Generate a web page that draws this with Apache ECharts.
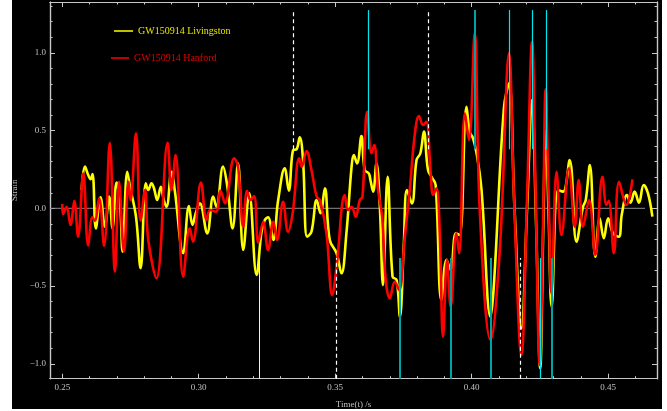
<!DOCTYPE html>
<html>
<head>
<meta charset="utf-8">
<script src="https://cdn.jsdelivr.net/npm/echarts@6/dist/echarts.min.js"></script>
<style>
html,body{margin:0;padding:0;background:#fff;}
#bg{position:absolute;left:12px;top:0;width:650px;height:409px;background:#000;}
#chart{position:absolute;left:0;top:0;width:667px;height:411px;}
</style>
</head>
<body>
<div id="bg"></div>
<div id="chart"></div>
<script>
// ---- data (time in s, strain) ----
var hanford = [
[0.2500,0.028],[0.2503,-0.037],[0.2516,0.010],[0.2530,-0.107],[0.2544,0.049],[0.2558,-0.183],
[0.2577,0.225],[0.2595,-0.241],[0.2610,-0.058],[0.2619,-0.080],[0.2635,0.064],[0.2653,-0.241],
[0.2674,0.422],[0.2693,-0.408],[0.2708,0.171],[0.2726,-0.279],[0.2743,0.171],[0.2750,0.053],
[0.2770,0.482],[0.2787,-0.080],[0.2803,0.118],[0.2815,-0.204],[0.2845,-0.450],[0.2886,0.422],
[0.2900,0.118],[0.2915,0.343],[0.2943,-0.440],[0.2967,-0.129],[0.2979,-0.215],[0.3008,0.165],
[0.3029,-0.075],[0.3041,-0.011],[0.3063,-0.022],[0.3080,0.113],[0.3096,0.032],[0.3130,0.322],
[0.3144,0.268],[0.3163,-0.118],[0.3177,0.113],[0.3190,0.053],[0.3203,0.079],[0.3218,-0.221],
[0.3236,-0.086],[0.3254,-0.268],[0.3273,-0.086],[0.3287,-0.204],[0.3309,0.042],[0.3327,-0.150],
[0.3344,-0.032],[0.3368,0.322],[0.3377,0.268],[0.3395,0.368],[0.3413,0.246],[0.3432,0.075],
[0.3444,0.053],[0.3468,-0.161],[0.3489,-0.558],[0.3505,-0.376],[0.3535,0.086],[0.3547,-0.011],
[0.3560,0.010],[0.3575,-0.054],[0.3590,0.053],[0.3600,0.075],[0.3617,0.621],[0.3633,0.354],
[0.3643,0.407],[0.3657,0.118],[0.3672,-0.054],[0.3685,-0.461],[0.3700,-0.579],[0.3718,-0.472],
[0.3734,-0.525],[0.3755,-0.183],[0.3773,0.118],[0.3792,0.482],[0.3807,0.594],[0.3822,0.536],
[0.3834,0.557],[0.3849,0.246],[0.3859,0.086],[0.3871,0.129],[0.3883,-0.161],[0.3895,-0.826],
[0.3910,-0.332],[0.3923,-0.633],[0.3944,-0.161],[0.3954,-0.289],[0.3975,0.611],[0.3990,0.439],
[0.4011,1.129],[0.4030,-0.032],[0.4069,-0.847],[0.4103,-0.268],[0.4137,0.997],[0.4155,0.075],
[0.4182,-0.943],[0.4203,0.075],[0.4221,1.071],[0.4235,0.030],[0.4249,-1.008],[0.4262,-0.054],
[0.4271,0.765],[0.4282,0.075],[0.4292,-0.547],[0.4311,0.235],[0.4329,-0.172],[0.4356,0.257],
[0.4378,-0.118],[0.4392,0.182],[0.4408,-0.118],[0.4430,0.053],[0.4453,-0.300],[0.4479,0.203],
[0.4494,0.021],[0.4502,0.049],[0.4521,-0.289],[0.4540,0.171],[0.4567,0.021],[0.4589,0.186]
];
var livingston = [
[0.2571,0.118],[0.2583,0.268],[0.2595,0.214],[0.2604,0.188],[0.2611,0.221],[0.2623,-0.129],
[0.2640,0.071],[0.2656,-0.118],[0.2672,0.075],[0.2684,-0.129],[0.2699,0.165],[0.2711,0.053],
[0.2721,-0.279],[0.2738,0.235],[0.2748,0.139],[0.2770,-0.054],[0.2787,-0.386],[0.2806,0.161],
[0.2815,0.118],[0.2827,0.161],[0.2836,0.129],[0.2848,0.053],[0.2861,0.139],[0.2872,0.053],
[0.2882,0.010],[0.2900,0.235],[0.2912,0.118],[0.2943,-0.289],[0.2964,0.015],[0.2977,-0.107],
[0.2989,-0.032],[0.3004,0.032],[0.3031,-0.161],[0.3053,0.075],[0.3065,0.010],[0.3089,0.268],
[0.3104,0.150],[0.3124,-0.129],[0.3144,0.289],[0.3163,-0.268],[0.3185,0.096],[0.3212,-0.429],
[0.3230,-0.150],[0.3242,-0.075],[0.3254,-0.058],[0.3273,-0.204],[0.3291,0.053],[0.3315,0.257],
[0.3330,0.113],[0.3346,0.375],[0.3358,0.379],[0.3370,0.457],[0.3382,0.311],[0.3397,-0.183],
[0.3413,-0.150],[0.3432,0.053],[0.3446,-0.032],[0.3462,0.129],[0.3480,-0.204],[0.3505,-0.289],
[0.3523,-0.418],[0.3541,-0.161],[0.3560,0.268],[0.3568,0.343],[0.3580,0.289],[0.3596,0.465],
[0.3608,0.246],[0.3623,0.225],[0.3629,0.182],[0.3639,0.107],[0.3651,0.289],[0.3663,0.032],
[0.3675,-0.493],[0.3692,0.203],[0.3710,-0.440],[0.3725,-0.461],[0.3737,-0.697],[0.3751,-0.247],
[0.3763,0.118],[0.3781,0.032],[0.3798,0.311],[0.3812,0.354],[0.3825,0.493],[0.3840,0.246],
[0.3856,0.193],[0.3868,0.150],[0.3889,-0.590],[0.3908,-0.332],[0.3923,-0.397],[0.3942,-0.161],
[0.3956,-0.172],[0.3981,0.653],[0.3993,0.493],[0.4005,0.450],[0.4018,0.354],[0.4036,0.118],
[0.4069,-0.697],[0.4081,-0.504],[0.4118,0.643],[0.4137,0.804],[0.4157,0.000],[0.4182,-0.772],
[0.4203,0.000],[0.4221,0.696],[0.4236,-0.100],[0.4251,-1.029],[0.4262,-0.150],[0.4271,0.500],
[0.4282,-0.050],[0.4293,-0.633],[0.4316,0.118],[0.4335,0.107],[0.4359,0.311],[0.4384,-0.215],
[0.4408,0.010],[0.4418,0.053],[0.4433,0.278],[0.4453,-0.311],[0.4469,-0.064],[0.4484,-0.193],
[0.4500,-0.064],[0.4518,-0.161],[0.4539,-0.183],[0.4550,-0.040],[0.4569,0.086],[0.4582,0.036],
[0.4597,0.107],[0.4613,0.036],[0.4630,0.150],[0.4646,0.096],[0.4662,-0.054]
];
var zeroLine = [[0.2455,0],[0.4635,0]];
// marker lines: times of vertical lines
var topCyanT = [0.3621,0.4137,0.4223,0.4273];
var topTealT = [0.4011];
var topDashT = [0.3348,0.3840];
var botTealT = [0.3737,0.3923,0.4069,0.4293];
var botCyanT = [0.4251];
var botPaleT = [0.3220];
var botDashT = [0.3503,0.4177];
var topSpan = [0.38,1.275];
var botSpan = [-1.096,-0.32];
// axis ticks
var xMajor = [0.25,0.30,0.35,0.40,0.45];
var xMinor = [0.26,0.27,0.28,0.29,0.31,0.32,0.33,0.34,0.36,0.37,0.38,0.39,0.41,0.42,0.43,0.44,0.46];
var yMajor = [-1.0,-0.5,0.0,0.5,1.0];
var yMinor = [-0.9,-0.8,-0.7,-0.6,-0.4,-0.3,-0.2,-0.1,0.1,0.2,0.3,0.4,0.6,0.7,0.8,0.9,1.1,1.2,1.3];

var X_MIN = 0.2455, X_MAX = 0.4679, Y_MIN = -1.096, Y_MAX = 1.327;
var FONT = 'Liberation Serif';
var AX = '#c8c8c8';

function vlines(ts, span){
  return ts.map(function(t){ return [{coord:[t,span[0]]},{coord:[t,span[1]]}]; });
}
function mlSeries(name, ts, span, color, width, type){
  return {
    name: name, type:'line', data:[], silent:true, z:10,
    markLine:{ symbol:['none','none'], silent:true, animation:false,
      label:{show:false},
      lineStyle:{color:color, width:width, type:type||'solid'},
      emphasis:{disabled:true},
      data: vlines(ts, span) }
  };
}
function xAx(pos, vals, len, labels){
  return { type:'value', position:pos, min:X_MIN, max:X_MAX,
    axisLine:{show:true, onZero:false, lineStyle:{color:AX,width:1.2}},
    splitLine:{show:false},
    axisTick:{show:true, inside:true, length:len, customValues:vals, lineStyle:{color:AX,width:1}},
    axisLabel:{show:labels, customValues:vals, color:'#c0c0c0', fontFamily:FONT, fontSize:9, margin:4,
      formatter:function(v){return v.toFixed(2);} },
    name: (labels? 'Time(t) /s' : ''), nameLocation:'middle', nameGap:21,
    nameTextStyle:{color:'#c0c0c0', fontFamily:FONT, fontSize:9}
  };
}
function yAx(pos, vals, len, labels){
  return { type:'value', position:pos, min:Y_MIN, max:Y_MAX,
    axisLine:{show:true, onZero:false, lineStyle:{color:AX,width:1.2}},
    splitLine:{show:false},
    axisTick:{show:true, inside:true, length:len, customValues:vals, lineStyle:{color:AX,width:1}},
    axisLabel:{show:labels, customValues:vals, color:'#c0c0c0', fontFamily:FONT, fontSize:9, margin:4,
      formatter:function(v){ var s=Math.abs(v).toFixed(1); return v< -1e-9 ? '\u2212'+s : s; } },
    name: (labels? 'Strain' : ''), nameLocation:'middle', nameGap:25,
    nameTextStyle:{color:'#c0c0c0', fontFamily:FONT, fontSize:9}
  };
}

var chart = echarts.init(document.getElementById('chart'), null, {renderer:'canvas'});
chart.setOption({
  backgroundColor:'transparent',
  animation:false,
  grid:{left:50, top:2, width:607, height:376.7, containLabel:false, outerBoundsMode:'none'},
  legend:[
    {data:[{name:'GW150914 Livingston', textStyle:{color:'#e6e600'}}], left:114, top:26, padding:0,
     icon:'rect', itemWidth:19, itemHeight:1.5, textStyle:{fontFamily:FONT, fontSize:10}, selectedMode:false},
    {data:[{name:'GW150914 Hanford', textStyle:{color:'#e00000'}}], left:111, top:53, padding:0,
     icon:'rect', itemWidth:18, itemHeight:1.5, textStyle:{fontFamily:FONT, fontSize:10}, selectedMode:false}
  ],
  xAxis:[ xAx('bottom', xMajor, 5, true), xAx('bottom', xMinor, 2.5, false),
          xAx('top', xMajor, 5, false), xAx('top', xMinor, 2.5, false) ],
  yAxis:[ yAx('left', yMajor, 5, true), yAx('left', yMinor, 2.5, false),
          yAx('right', yMajor, 5, false), yAx('right', yMinor, 2.5, false) ],
  series:[
    {name:'zero', type:'line', data:zeroLine, showSymbol:false, silent:true, z:1,
     lineStyle:{color:'#909090', width:1}},
    {name:'GW150914 Livingston', type:'line', data:livingston, showSymbol:false, smooth:0.4, z:3,
     itemStyle:{color:'#ffff00'}, lineStyle:{color:'#ffff00', width:2.6}},
    {name:'GW150914 Hanford', type:'line', data:hanford, showSymbol:false, smooth:0.4, z:4,
     itemStyle:{color:'#ff0000'}, lineStyle:{color:'#ff0000', width:2.6}},
    mlSeries('topCyan', topCyanT, topSpan, '#00e6ee', 1.2),
    mlSeries('topTeal', topTealT, topSpan, '#00a3a3', 2),
    mlSeries('topDash', topDashT, topSpan, '#ffffff', 1.2, [4,3]),
    mlSeries('botTeal', botTealT, botSpan, '#00a3a3', 2),
    mlSeries('botCyan', botCyanT, botSpan, '#00e6ee', 1.2),
    mlSeries('botPale', botPaleT, botSpan, '#c8ffff', 1),
    mlSeries('botDash', botDashT, botSpan, '#ffffff', 1.2, [4,3])
  ]
});
</script>
</body>
</html>
